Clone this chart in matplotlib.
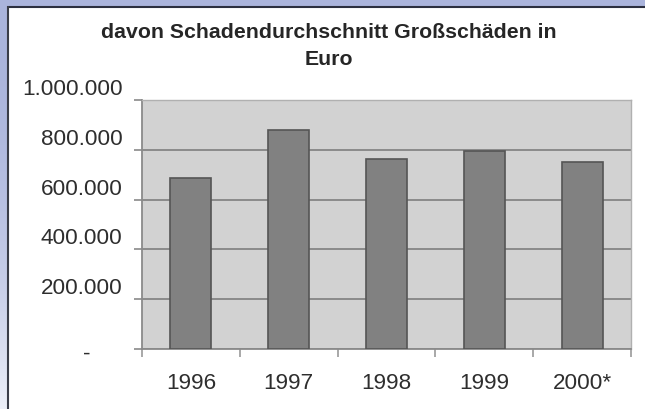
import matplotlib
matplotlib.use("Agg")
import matplotlib.pyplot as plt
import numpy as np
from matplotlib.transforms import ScaledTranslation
from matplotlib.patches import Rectangle

years = ["1996", "1997", "1998", "1999", "2000*"]
values = [687000, 880000, 763000, 796000, 752000]
yticks = [0, 200000, 400000, 600000, 800000, 1000000]
ytick_labels = ["-", "200.000", "400.000", "600.000", "800.000", "1.000.000"]
title_lines = ["davon Schadendurchschnitt Großschäden in", "Euro"]

plt.rcParams['font.family'] = ['Liberation Sans', 'DejaVu Sans']

W, H = 645, 410
fig = plt.figure(figsize=(W / 100, H / 100), dpi=100, facecolor='white')

# --- decorative frame ---
bg = fig.add_axes([0, 0, 1, 1], zorder=-10)
bg.set_xlim(0, W)
bg.set_ylim(H, 0)
bg.axis('off')
c_top = np.array([0.667, 0.706, 0.863])
c_bot = np.array([0.93, 0.94, 0.975])
g = (np.linspace(0, 1, 200) ** 2.2).reshape(-1, 1, 1)
img = c_top[None, None, :] * (1 - g) + c_bot[None, None, :] * g
bg.imshow(img, extent=[0, 7, H, 0], aspect='auto', interpolation='bilinear')
bg.add_patch(Rectangle((0, 0), W, 7, color=c_top, lw=0))
bg.plot([7, W], [7.5, 7.5], color='#2b2f3f', lw=1.5, solid_capstyle='butt')
bg.plot([7.5, 7.5], [7, H], color='#3a3d48', lw=1.5, solid_capstyle='butt')

# --- title ---
fig.text(329 / W, 1 - 37.7 / H, title_lines[0], ha='center', va='baseline',
         fontsize=15.3, fontweight='bold', color='#262626')
fig.text(329 / W, 1 - 65 / H, title_lines[1], ha='center', va='baseline',
         fontsize=15.3, fontweight='bold', color='#262626')

# --- main axes ---
ax = fig.add_axes([142 / W, 60 / H, 489 / W, 249 / H])
ax.set_facecolor('#d2d2d2')
x = np.arange(len(years))
ax.bar(x, values, width=0.42, color='#818181', edgecolor='#555555', linewidth=1.2, zorder=3)
ax.set_xlim(-0.5, len(years) - 0.5)
ax.set_ylim(0, 1000000)

ax.set_yticks(yticks)
ax.set_yticklabels(ytick_labels)
ax.yaxis.grid(True, color='#858585', linewidth=1.3)
ax.set_axisbelow(True)
ax.tick_params(axis='y', direction='out', length=6, width=1.2, color='#8a8a8a',
               pad=8, labelsize=16.2, labelcolor='#2e2e2e')

# x: boundary ticks (major, no label), labels at centers (minor)
ax.set_xticks(np.arange(len(years) + 1) - 0.5)
ax.set_xticklabels([])
ax.set_xticks(x, minor=True)
ax.set_xticklabels(years, minor=True)
ax.tick_params(axis='x', which='major', direction='out', length=6, width=1.2, color='#9a9a9a')
ax.tick_params(axis='x', which='minor', length=0, pad=16.5, labelsize=16.2, labelcolor='#2e2e2e')

for side in ['left', 'bottom']:
    ax.spines[side].set_color('#8a8a8a')
    ax.spines[side].set_linewidth(1.3)
for side in ['top', 'right']:
    ax.spines[side].set_color('#b0b0b0')
    ax.spines[side].set_linewidth(1.0)

# Excel-like label placement (labels sit above gridlines; dash shifted left)
for i, lab in enumerate(ax.get_yticklabels()):
    if i == 0:
        off = ScaledTranslation(-0.32, -0.02, fig.dpi_scale_trans)
    else:
        off = ScaledTranslation(0, 0.14, fig.dpi_scale_trans)
    lab.set_transform(lab.get_transform() + off)

fig.savefig("out.png", dpi=100, facecolor='white')
